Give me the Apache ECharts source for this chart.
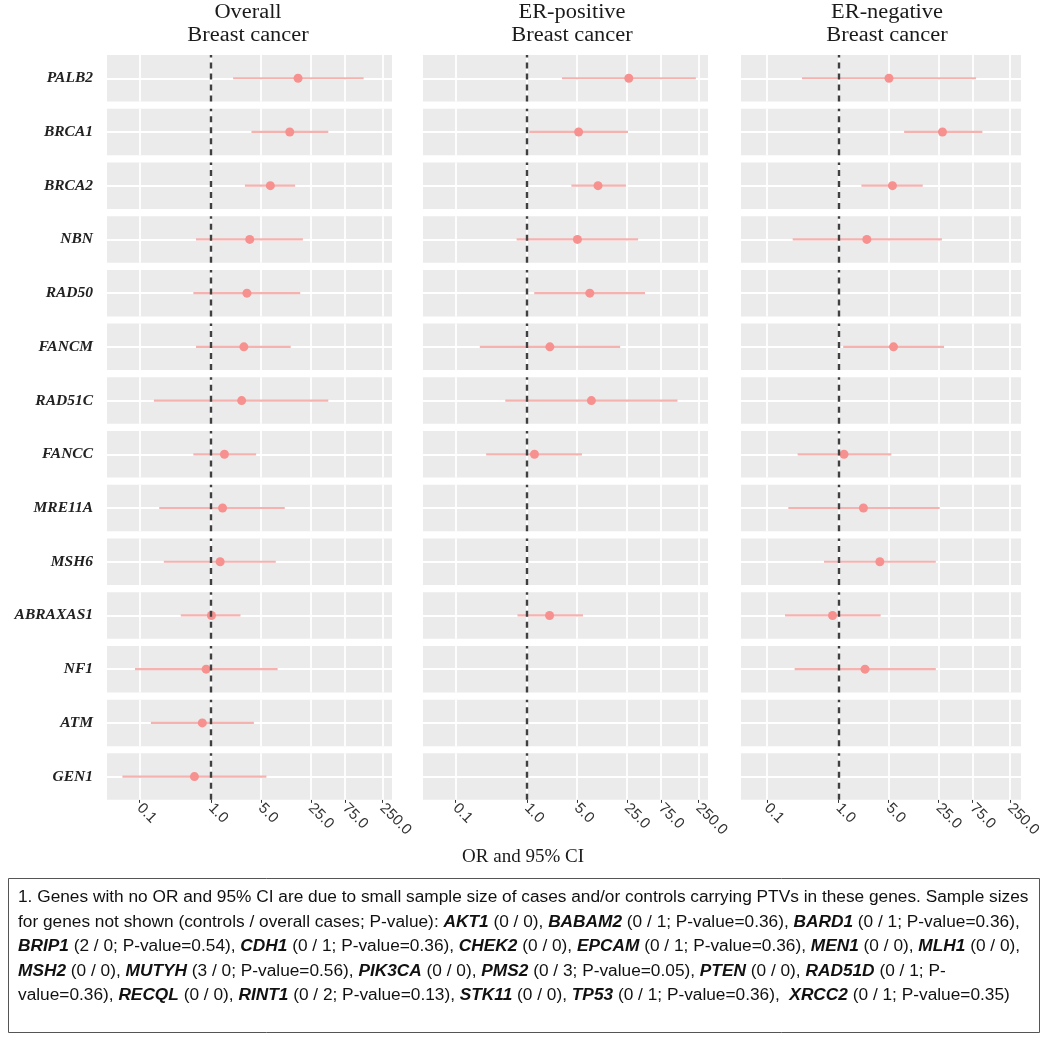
<!DOCTYPE html>
<html><head><meta charset="utf-8">
<script src="https://cdn.jsdelivr.net/npm/echarts@6/dist/echarts.min.js"></script>
<style>html,body{margin:0;padding:0;background:#fff}#c{width:1050px;height:1041px}</style>
</head><body><div id="c"></div>
<script>
// ---------- data ----------
const genes = ['PALB2','BRCA1','BRCA2','NBN','RAD50','FANCM','RAD51C','FANCC','MRE11A','MSH6','ABRAXAS1','NF1','ATM','GEN1'];
const panelTitles = ['Overall\nBreast cancer','ER-positive\nBreast cancer','ER-negative\nBreast cancer'];
const tickValues = [0.1, 1, 5, 25, 75, 250];
const xTitle = 'OR and 95% CI';

const overallOR = [16.6, 12.7, 6.8, 3.5, 3.2, 2.9, 2.7, 1.55, 1.46, 1.35, 1.02, 0.86, 0.76, 0.59];
const overallLo = [2.05, 3.7, 3.0, 0.62, 0.57, 0.62, 0.16, 0.57, 0.19, 0.22, 0.38, 0.087, 0.145, 0.058];
const overallHi = [137, 44, 15.1, 19.4, 17.8, 13.1, 44, 4.3, 10.8, 8.1, 2.6, 8.6, 4.0, 6.0];

const erPosOR = [26.7, 5.3, 9.9, 5.1, 7.6, 2.1, 8.0, 1.28, null, null, 2.08, null, null, null];
const erPosLo = [3.1, 1.08, 4.2, 0.72, 1.27, 0.22, 0.5, 0.27, null, null, 0.74, null, null, null];
const erPosHi = [231, 26, 24.3, 36, 45, 20.2, 128, 5.9, null, null, 6.1, null, null, null];

const erNegOR = [5.1, 28.5, 5.7, 2.5, null, 5.9, null, 1.2, 2.24, 3.8, 0.83, 2.36, null, null];
const erNegLo = [0.31, 8.3, 2.1, 0.23, null, 1.17, null, 0.27, 0.2, 0.63, 0.18, 0.245, null, null];
const erNegHi = [84, 103, 15.1, 28, null, 30, null, 5.5, 26, 23, 3.9, 23, null, null];

const footLines = [
  '{n|1. Genes with no OR and 95% CI are due to small sample size of cases and/or controls carrying PTVs in these genes. Sample sizes}',
  '{n|for genes not shown (controls / overall cases; P-value): }{g|AKT1}{n| (0 / 0), }{g|BABAM2}{n| (0 / 1; P-value=0.36), }{g|BARD1}{n| (0 / 1; P-value=0.36),}',
  '{g|BRIP1}{n| (2 / 0; P-value=0.54), }{g|CDH1}{n| (0 / 1; P-value=0.36), }{g|CHEK2}{n| (0 / 0), }{g|EPCAM}{n| (0 / 1; P-value=0.36), }{g|MEN1}{n| (0 / 0), }{g|MLH1}{n| (0 / 0),}',
  '{g|MSH2}{n| (0 / 0), }{g|MUTYH}{n| (3 / 0; P-value=0.56), }{g|PIK3CA}{n| (0 / 0), }{g|PMS2}{n| (0 / 3; P-value=0.05), }{g|PTEN}{n| (0 / 0), }{g|RAD51D}{n| (0 / 1; P-}',
  '{n|value=0.36), }{g|RECQL}{n| (0 / 0), }{g|RINT1}{n| (0 / 2; P-value=0.13), }{g|STK11}{n| (0 / 0), }{g|TP53}{n| (0 / 1; P-value=0.36),  }{g|XRCC2}{n| (0 / 1; P-value=0.35)}'
];

// ---------- layout ----------
const panels = [
  {or: overallOR, lo: overallLo, hi: overallHi, left: 107, width: 285, minLog: -1.452, maxLog: 2.534},
  {or: erPosOR, lo: erPosLo, hi: erPosHi, left: 423, width: 285, minLog: -1.452, maxLog: 2.534},
  {or: erNegOR, lo: erNegLo, hi: erNegHi, left: 741, width: 280, minLog: -1.36, maxLog: 2.552}
];
const rowTop0 = 55, rowPitch = 53.72, rowH = 46.5;

const grids = [], xAxes = [], yAxes = [], series = [];
panels.forEach((p, c) => {
  genes.forEach((g, r) => {
    const idx = grids.length;
    const last = r === genes.length - 1;
    grids.push({left: p.left, width: p.width, top: rowTop0 + r * rowPitch, height: rowH,
      show: true, backgroundColor: '#EBEBEB', borderWidth: 0});
    xAxes.push({gridIndex: idx, type: 'log', logBase: 10,
      min: Math.pow(10, p.minLog), max: Math.pow(10, p.maxLog),
      axisLine: {show: false},
      axisTick: {show: last, customValues: tickValues, length: 3, lineStyle: {color: '#333', width: 1}},
      axisLabel: {show: last, customValues: tickValues, rotate: -45, margin: 6,
        formatter: v => Number(v).toFixed(1), fontFamily: 'Liberation Sans', fontSize: 15, color: '#333'},
      splitLine: {show: false}});
    yAxes.push({gridIndex: idx, type: 'category', data: [g],
      axisLine: {show: false}, axisTick: {show: false}, splitLine: {show: false},
      axisLabel: {show: c === 0, margin: 14, fontFamily: 'Liberation Serif', fontStyle: 'italic',
        fontWeight: 'bold', fontSize: 15.5, color: '#222'}});
    // white gridlines
    series.push({type: 'line', xAxisIndex: idx, yAxisIndex: idx, data: [], silent: true, z: 1,
      markLine: {silent: true, z: 1, symbol: 'none', label: {show: false}, animation: false,
        lineStyle: {color: '#ffffff', width: 1.8, type: 'solid'},
        data: tickValues.map(v => ({xAxis: v})).concat([{yAxis: 0}])}});
    if (p.or[r] != null) {
      series.push({type: 'line', xAxisIndex: idx, yAxisIndex: idx, silent: true, z: 2,
        symbol: 'none', lineStyle: {color: '#F5B2AF', width: 2.2}, animation: false,
        data: [[p.lo[r], g], [p.hi[r], g]]});
      series.push({type: 'scatter', xAxisIndex: idx, yAxisIndex: idx, silent: true, z: 3,
        symbolSize: 9, itemStyle: {color: '#F7918F', opacity: 1}, animation: false,
        data: [[p.or[r], g]]});
    }
    // dashed reference line at OR = 1
    series.push({type: 'line', xAxisIndex: idx, yAxisIndex: idx, data: [], silent: true, z: 5,
      markLine: {silent: true, z: 5, symbol: 'none', label: {show: false}, animation: false,
        lineStyle: {color: '#404040', width: 2.4, type: [6, 5]},
        data: [{xAxis: 1}]}});
  });
});

const graphics = [];
const titleX = [248, 572, 887];
panelTitles.forEach((t, c) => {
  graphics.push({type: 'text', x: titleX[c], y: 24, scaleX: 1.12, style: {text: t, textAlign: 'center', textVerticalAlign: 'middle',
    fontFamily: 'Liberation Serif', fontSize: 20, lineHeight: 23, fill: '#1a1a1a'}});
});
graphics.push({type: 'text', x: 523, y: 857, style: {text: xTitle, textAlign: 'center', textVerticalAlign: 'middle',
  fontFamily: 'Liberation Serif', fontSize: 19, fill: '#1a1a1a'}});
graphics.push({type: 'rect', shape: {x: 8.5, y: 878.5, width: 1031, height: 154},
  style: {fill: 'none', stroke: '#555', lineWidth: 1}});
const rich = {
  n: {fontFamily: 'Liberation Sans', fontSize: 16, fill: '#111'},
  g: {fontFamily: 'Liberation Sans', fontSize: 16, fontStyle: 'italic', fontWeight: 'bold', fill: '#111'}
};
footLines.forEach((l, i) => {
  graphics.push({type: 'text', x: 18, y: 898 + i * 24.5, scaleX: 1.08, style: {text: l, rich: rich,
    textVerticalAlign: 'middle', fontFamily: 'Liberation Sans', fontSize: 16, fill: '#111'}});
});

const chart = echarts.init(document.getElementById('c'), null, {renderer: 'canvas'});
chart.setOption({animation: false, grid: grids, xAxis: xAxes, yAxis: yAxes, series: series, graphic: graphics});
</script></body></html>
